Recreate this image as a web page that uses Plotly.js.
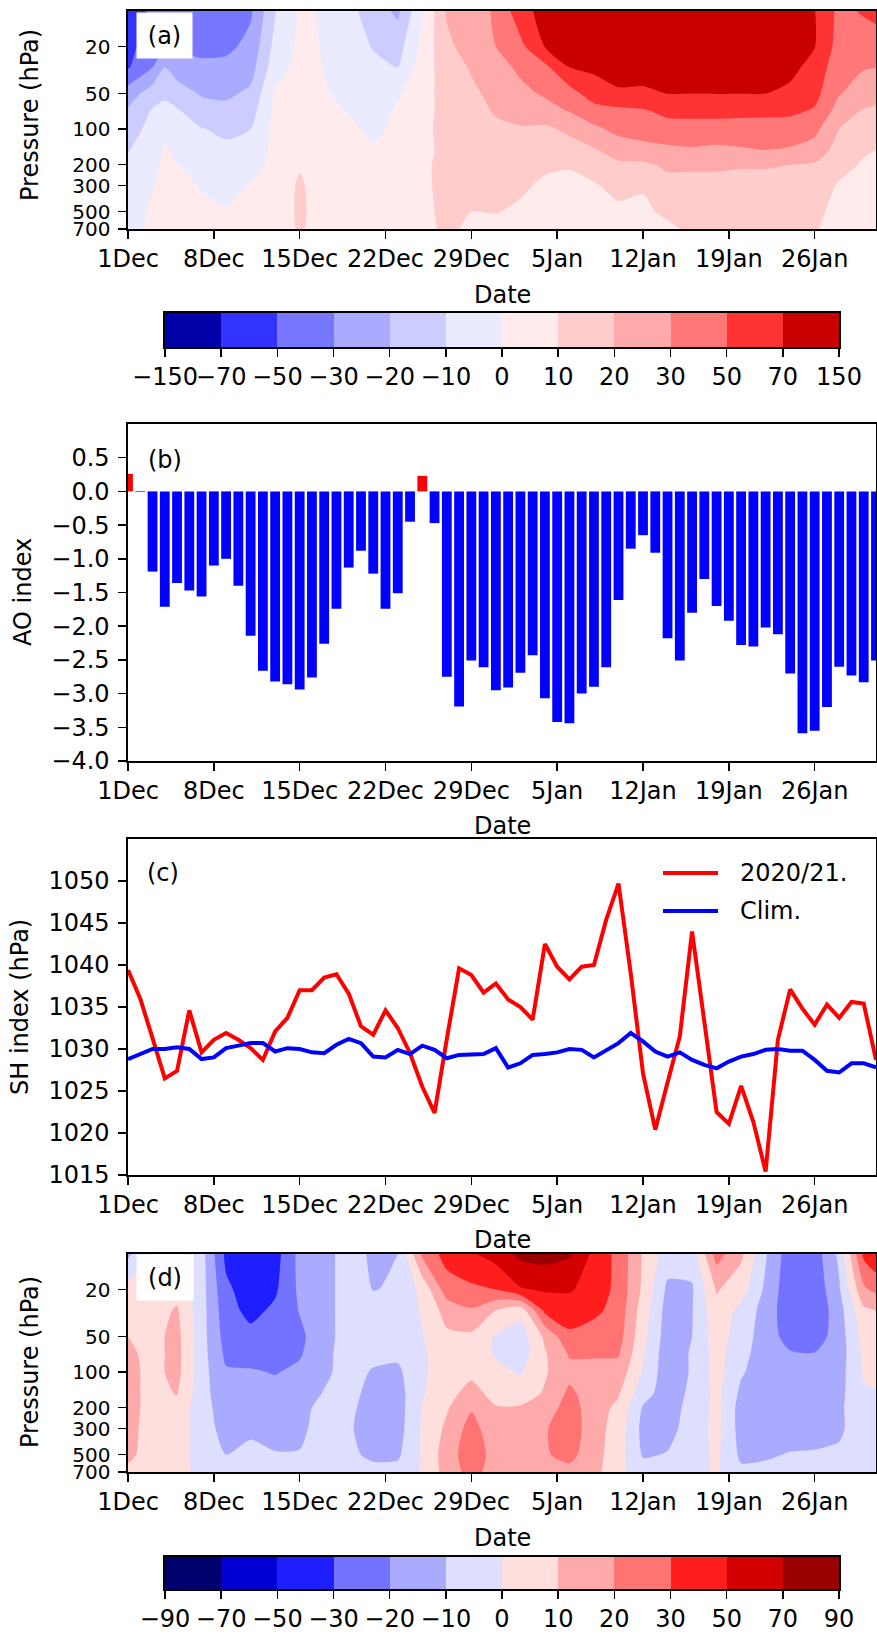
<!DOCTYPE html>
<html>
<head>
<meta charset="utf-8">
<script src="https://cdn.plot.ly/plotly-3.0.1.min.js"></script>
<style>html,body{margin:0;padding:0;background:#fff;}#chart{width:877px;height:1635px;}</style>
</head>
<body>
<div id="chart"></div>
<script>
// ---------------- data ----------------
const dayIndex = [0,1,2,3,4,5,6,7,8,9,10,11,12,13,14,15,16,17,18,19,20,21,22,23,24,25,26,27,28,29,30,
  31,32,33,34,35,36,37,38,39,40,41,42,43,44,45,46,47,48,49,50,51,52,53,54,55,56,57,58,59,60,61];
const tickDays = [0,7,14,21,28,35,42,49,56];
const tickLabels = ['1Dec','8Dec','15Dec','22Dec','29Dec','5Jan','12Jan','19Jan','26Jan'];

const aoIndex = [0.26,-0.01,-1.19,-1.71,-1.36,-1.47,-1.56,-1.10,-1.00,-1.40,-2.14,-2.66,-2.82,-2.86,-2.94,-2.76,
  -2.26,-1.74,-1.13,-0.88,-1.22,-1.74,-1.51,-0.45,0.23,-0.47,-2.75,-3.19,-2.51,-2.61,-2.95,-2.91,-2.69,-2.43,
  -3.07,-3.42,-3.44,-3.00,-2.90,-2.61,-1.61,-0.85,-0.65,-0.91,-2.18,-2.51,-1.80,-1.30,-1.70,-1.92,-2.28,-2.30,
  -2.02,-2.12,-2.70,-3.59,-3.55,-3.20,-2.60,-2.73,-2.83,-2.51];
const aoTicks = [-4.0,-3.5,-3.0,-2.5,-2.0,-1.5,-1.0,-0.5,0.0,0.5];

const shIndex = [1039.4,1036.0,1031.3,1026.5,1027.4,1034.6,1029.6,1031.1,1031.9,1031.1,1030.1,1028.7,1032.1,
  1033.7,1037.0,1037.0,1038.5,1038.9,1036.6,1032.7,1031.7,1034.6,1032.5,1029.5,1025.5,1022.4,1031.2,1039.6,
  1038.8,1036.7,1037.8,1035.9,1035.0,1033.5,1042.5,1039.8,1038.3,1039.8,1040.0,1045.4,1049.7,1039.0,1027.1,
  1020.4,1026.0,1031.5,1044.0,1033.1,1022.5,1021.1,1025.6,1021.3,1015.4,1031.1,1037.1,1034.8,1032.9,1035.3,
  1033.7,1035.6,1035.4,1028.7];
const shClim = [1028.8,1029.4,1030.0,1030.0,1030.2,1030.0,1028.8,1029.0,1030.1,1030.4,1030.7,1030.7,1029.7,
  1030.1,1030.0,1029.6,1029.5,1030.5,1031.2,1030.7,1029.1,1029.0,1029.9,1029.4,1030.4,1029.9,1028.9,1029.3,
  1029.4,1029.4,1030.1,1027.8,1028.3,1029.3,1029.4,1029.6,1030.0,1029.9,1029.0,1029.9,1030.7,1031.9,1030.9,
  1029.7,1029.1,1029.6,1028.7,1028.1,1027.7,1028.5,1029.1,1029.4,1029.9,1030.0,1029.8,1029.8,1028.7,1027.4,
  1027.2,1028.3,1028.3,1027.8];
const shTicks = [1015,1020,1025,1030,1035,1040,1045,1050];
const seriesNames = ['2020/21.','Clim.'];

// contour grids: each row of panelA / panelD is one day column, listing values at pressureLevels
const pressureLevels = [10,20,30,50,70,100,150,200,300,500,700];
const pressureTicks = [20,50,100,200,300,500,700];

const levelsA = [-150,-70,-50,-30,-20,-10,0,10,20,30,50,70,150];
const colorsA = ['#0000A8','#3333FF','#7777FF','#AAAAFF','#CCCCFF','#EBEBFF','#FFEBEB','#FFCCCC','#FFAAAA','#FF7777','#FF3333','#C80000'];
const gridDaysA = [0,2,3,4,6,8,10,12,14,16,18,20,22,24,26,28,30,32,34,36,38,40,42,44,46,48,50,52,54,56,58,60,62];
const panelA = [
  [-65,-57,-52,-25,-19,-14,-10.5,-8,-6,-4,-2],
  [-45,-37,-30,-15,-9,-7,-5,-3,-0.5,1.5,1],
  [-40,-33,-20,-12,-7,-2,1,2,3,3,3],
  [-42,-33,-25,-15,-9,-6,-2,0.3,2,3,4],
  [-45,-35,-28,-21,-16,-9.5,-7,-5,-0.5,1.5,3],
  [-42,-35,-27,-22,-17,-12,-8,-6,-4,1,2],
  [-33,-27,-24,-18,-14,-10,-7,-4,1,2,3],
  [-10.5,-7,-4,1,2,3,3,3,3,3,3],
  [1,2,3,4,5,6,7,9,11.5,12,11.5],
  [-0.5,-0.5,-0.3,1,2,3,4,4,4.5,5,5],
  [-7,-6,-5,-3,-0.5,2,3,4,4,4,5],
  [-15,-10.5,-8,-6,-4,-2,1,2,3,3,4],
  [-22,-14,-10,-1,1,2,3,3,4,4,4],
  [-0.5,3,5,6,6,7,7,8,8,8,7],
  [21,18,15,14,14,14,13,13,13,12,12],
  [25,24,21,18,16,15,14,13,12,10,8],
  [33,30,27,23,21,18,15,13,12,10.5,6],
  [62,45,33,28,24,19,16,14,12,8,6],
  [100,72,45,32,27,18,15,12,8,6,5],
  [120,95,70,42,31,22,16,11,7,5,4],
  [130,110,85,60,42,28,19,15,9,6,4],
  [140,120,95,68,45,35,25,18,13,8,6],
  [150,130,100,67,48,38,27,18,11,8,6],
  [150,130,105,71,55,42,28,22,16,12,8],
  [150,135,110,70,56,42,29,22,16,13,12],
  [150,135,110,71,56,42,28,22,16,13,12],
  [150,135,110,71,55,42,29,21,16,13,12],
  [150,135,105,70,55,41,30,21,16,13,12],
  [145,125,95,65,54,41,29,20,16,13,11],
  [72,72,62,56,48,35,26,19,15,13,11],
  [45,42,38,31,26,20,16,13,9,6,5],
  [52,40,31,26,19,15,11,9,6,4,3],
  [60,42,30,24,17,13,9,7,5,3,2]
];

const levelsD = [-90,-70,-50,-30,-20,-10,0,10,20,30,50,70,90];
const colorsD = ['#00006E','#0000D2','#1E1EFF','#7373FF','#AAAAFF','#DEDEFF','#FFDEDE','#FFAAAA','#FF7373','#FF1E1E','#D20000','#9B0000'];
const gridDaysD = [0,2,4,6,8,10,12,14,16,18,20,22,24,26,28,30,32,34,36,38,40,42,44,46,48,50,52,54,56,58,60,62];
const panelD = [
  [-12,3,6,10,12,13,13,13,13,12,8],
  [2,4,6,7,7,7,7,7,6,6,5],
  [3,7,11,13,13,13,10.5,7,6,5,4],
  [-6,-6,-6,-6,-6,-6,-6,-6,-6,-5,-3],
  [-35,-28,-26,-24,-22,-19,-17,-15,-13,-10,-7],
  [-42,-40,-36,-27,-24,-19,-16,-14,-11.5,-8,-6],
  [-38,-33,-28,-24,-22,-20.5,-17,-15,-13,-9.5,-7],
  [-17,-18,-19.5,-22,-21,-18,-15,-13,-12,-9.5,-7],
  [-14,-14,-14,-14,-13,-12,-9.5,-7,-6,-5,-4],
  [-5,-5,-5,-5,-5,-6,-7,-8,-9,-8,-6],
  [-12,-10.3,-6,-5,-7,-11,-13,-14,-14,-12,-7],
  [-10,-9,-6,-6,-8,-12,-14,-14.5,-14,-11.5,-7],
  [22,3,1,-0.5,-1.5,-1.5,-1,0.5,1,1,1],
  [38,25,14,8,6,6,7,9,12,15,14],
  [48,28,19,8,6,8,13,19,24,26,24],
  [58,30,10,-1,-1,3,7,10.5,13,16,15],
  [75,48,4,-5,-5,-1,5,11,14,15,14],
  [78,52,35,12,9,9,11,14,19,19,16],
  [72,52,40,28,21,17,22,25,26,23,17],
  [45,42,35,25,21,17,15,14,14,14,13],
  [27,27,26,24,21,16,11,8,6,4,3],
  [9,8,5,3,1,-1,-6,-11,-13,-11,-6],
  [-5,-12,-14,-15,-16,-16,-15,-14,-13,-9.5,-6],
  [-6,-11,-10.5,-10,-9,-9,-8,-7,-6,-5,-3],
  [24,11,7,5,4,4,3,3,3,2,1],
  [12,4,-3,-5,-7,-9,-12,-14,-14,-12,-8],
  [-9,-12,-14,-15,-15,-15,-15,-15,-14,-11,-8],
  [-26,-27,-27,-24,-19,-17,-16,-15,-14,-9.5,-7],
  [-25,-27,-28,-25,-19.5,-17,-16,-15,-14,-9,-7],
  [-8,-11,-14,-15,-15,-14,-13,-12,-12,-8,-6],
  [35,18,8,4,2,1,-1,-2,-3,-4,-4],
  [55,28,12,6,3,2,0,-1,-2,-3,-3]
];

// ---------------- helpers ----------------
const W = 877, H = 1635;
const px = v => v / W;
const py = v => 1 - v / H;
const FONT = 'DejaVu Sans, Liberation Sans, sans-serif';
const FS = 24;
const minus = s => String(s).replace('-', '\u2212');

// map real values to level-index space (equal-width bands like contourf with listed levels)
function toIndex(v, lv) {
  if (v <= lv[0]) return 0;
  for (let k = 0; k < lv.length - 1; k++) {
    if (v <= lv[k + 1]) return k + (v - lv[k]) / (lv[k + 1] - lv[k]);
  }
  return lv.length - 1;
}
function gridZ(cols, lv) {
  return pressureLevels.map((p, r) => cols.map(col => toIndex(col[r], lv)));
}
function stepScale(colors) {
  return colors.map((c, i) => [i / (colors.length - 1), c]);
}
function contourTrace(days, cols, lv, colors, xa, ya) {
  return {
    type: 'contour', x: days, y: pressureLevels, z: gridZ(cols, lv),
    autocontour: false,
    contours: {coloring: 'fill', start: 1, end: lv.length - 2, size: 1, showlines: false},
    line: {width: 0, smoothing: 0.7},
    colorscale: stepScale(colors), showscale: false,
    xaxis: xa, yaxis: ya, hoverinfo: 'skip'
  };
}
function cbTrace(colors, xa, ya) {
  return {
    type: 'heatmap', x: colors.map((c, i) => i + 0.5), y: [0], z: [colors.map((c, i) => i)],
    colorscale: stepScale(colors), zmin: 0, zmax: colors.length - 1, showscale: false,
    xaxis: xa, yaxis: ya, hoverinfo: 'skip'
  };
}

const traces = [
  contourTrace(gridDaysA, panelA, levelsA, colorsA, 'x', 'y'),
  {type: 'bar', x: dayIndex, y: aoIndex, width: 0.8,
   marker: {color: aoIndex.map(v => v >= 0 ? '#FF0000' : '#0000FF'), line: {width: 0}},
   xaxis: 'x2', yaxis: 'y2', hoverinfo: 'skip'},
  {type: 'scatter', mode: 'lines', x: dayIndex, y: shIndex, name: seriesNames[0],
   line: {color: '#FF0000', width: 4}, xaxis: 'x3', yaxis: 'y3', hoverinfo: 'skip'},
  {type: 'scatter', mode: 'lines', x: dayIndex, y: shClim, name: seriesNames[1],
   line: {color: '#0000FF', width: 4}, xaxis: 'x3', yaxis: 'y3', hoverinfo: 'skip'},
  contourTrace(gridDaysD, panelD, levelsD, colorsD, 'x4', 'y4'),
  cbTrace(colorsA, 'x5', 'y5'),
  cbTrace(colorsD, 'x6', 'y6')
];

// ---------------- layout ----------------
const XDOM = [px(128), px(876)];
const CBDOM = [px(165), px(839)];
const tickFont = {family: FONT, size: FS, color: '#000'};
function xAxis(anchor) {
  return {
    domain: XDOM, anchor: anchor, range: [0, 61], tickmode: 'array', tickvals: tickDays, ticktext: tickLabels,
    ticks: 'outside', ticklen: 8, tickwidth: 1.5, tickcolor: '#000', tickangle: 0,
    showline: true, linecolor: '#000', linewidth: 1.6, mirror: true,
    showgrid: false, zeroline: false, tickfont: tickFont, automargin: false
  };
}
function yBase(anchor, dom) {
  return {
    domain: dom, anchor: anchor, ticks: 'outside', ticklen: 8, tickwidth: 1.5, tickcolor: '#000',
    showline: true, linecolor: '#000', linewidth: 1.6, mirror: true,
    showgrid: false, zeroline: false, tickfont: tickFont, automargin: false, ticklabelstandoff: 4
  };
}
const yLog = (anchor, dom) => Object.assign(yBase(anchor, dom), {
  type: 'log', range: [Math.log10(700), 1], tickmode: 'array',
  tickvals: pressureTicks, ticktext: pressureTicks.map(String),
  tickfont: {family: FONT, size: 20, color: '#000'}
});

function cbX(anchor, lv) {
  return {
    domain: CBDOM, anchor: anchor, range: [0, lv.length - 1], tickmode: 'array',
    tickvals: lv.map((v, i) => i), ticktext: lv.map(minus),
    ticks: 'outside', ticklen: 8, tickwidth: 1.5, tickcolor: '#000', tickangle: 0,
    showline: true, linecolor: '#000', linewidth: 1.6, mirror: true,
    showgrid: false, zeroline: false, tickfont: tickFont, automargin: false
  };
}
function cbY(anchor, dom) {
  return {domain: dom, anchor: anchor, range: [-0.5, 0.5], showticklabels: false, ticks: '',
    showline: true, linecolor: '#000', linewidth: 1.6, mirror: true, showgrid: false, zeroline: false};
}

const ann = (text, x, y, extra) => Object.assign({
  text: text, xref: 'paper', yref: 'paper', x: px(x), y: py(y), xanchor: 'center', yanchor: 'middle',
  showarrow: false, font: {family: FONT, size: FS, color: '#000'}
}, extra || {});

const layout = {
  width: W, height: H, margin: {l: 0, r: 0, t: 0, b: 0},
  paper_bgcolor: '#fff', plot_bgcolor: '#fff', showlegend: false,
  xaxis: xAxis('y'),
  yaxis: yLog('x', [py(229), py(11)]),
  xaxis2: xAxis('y2'),
  yaxis2: Object.assign(yBase('x2', [py(761), py(424)]), {range: [-4, 1.0], tickmode: 'array',
    tickvals: aoTicks, ticktext: aoTicks.map(v => minus(v.toFixed(1)))}),
  xaxis3: xAxis('y3'),
  yaxis3: Object.assign(yBase('x3', [py(1175), py(839)]), {range: [1015, 1055], tickmode: 'array',
    tickvals: shTicks, ticktext: shTicks.map(String)}),
  xaxis4: xAxis('y4'),
  yaxis4: yLog('x4', [py(1472), py(1254)]),
  xaxis5: cbX('y5', levelsA),
  yaxis5: cbY('x5', [py(347), py(313)]),
  xaxis6: cbX('y6', levelsD),
  yaxis6: cbY('x6', [py(1589), py(1557)]),
  shapes: [
    {type: 'line', xref: 'paper', yref: 'paper', x0: px(663), x1: px(718), y0: py(873), y1: py(873),
     line: {color: '#FF0000', width: 4}},
    {type: 'line', xref: 'paper', yref: 'paper', x0: px(663), x1: px(718), y0: py(911), y1: py(911),
     line: {color: '#0000FF', width: 4}}
  ],
  annotations: [
    ann('(a)', 164, 35.5, {bgcolor: '#fff', width: 51, height: 41, borderpad: 2}),
    ann('(b)', 165, 460),
    ann('(c)', 163, 873),
    ann('(d)', 165, 1277.5, {bgcolor: '#fff', width: 52, height: 41, borderpad: 2}),
    ann('Pressure (hPa)', 30, 115, {textangle: -90}),
    ann('AO index', 23, 592, {textangle: -90}),
    ann('SH index (hPa)', 20, 1007, {textangle: -90}),
    ann('Pressure (hPa)', 30, 1362, {textangle: -90}),
    ann('Date', 502, 295),
    ann('Date', 502, 826),
    ann('Date', 502, 1240),
    ann('Date', 502, 1538),
    ann(seriesNames[0], 738, 873, {xanchor: 'left'}),
    ann(seriesNames[1], 738, 911, {xanchor: 'left'})
  ]
};

Plotly.newPlot('chart', traces, layout, {staticPlot: true, displayModeBar: false});
</script>
</body>
</html>
